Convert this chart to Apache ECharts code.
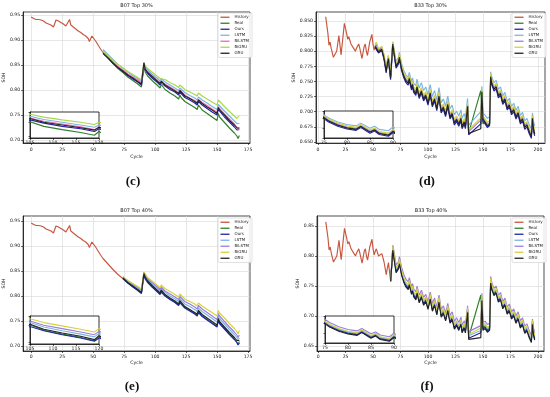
<!DOCTYPE html>
<html><head><meta charset="utf-8">
<script src="https://cdn.jsdelivr.net/npm/echarts@6/dist/echarts.min.js"></script>
<style>html,body{margin:0;padding:0;background:#fff}#c{width:550px;height:397px}</style>
</head><body><div id="c"></div>
<script>
// ---------------- DATA ----------------
const seriesNames = ['History','Real','Ours','LSTM','BiLSTM','BiGRU','GRU'];
const predNames = ['Ours','LSTM','BiLSTM','BiGRU','GRU'];

// B07 measured SOH (history + real)
const b07Cycles = [0,2,4,6,8,10,12,14,16,18,19,20,22,24,26,28,29,31,32,34,36,38,40,42,44,46,47,48,49,50,52,54,56,58,62,66,70,74,78,82,86,89,90,91,92,94,98,102,104,105,108,112,116,119,120,121,124,128,132,134,135,138,142,146,150,151,152,156,160,164,166,167,168];
const b07Soh = [.946,.943,.941,.941,.940,.938,.934,.932,.930,.926,.926,.940,.938,.935,.932,.928,.927,.941,.930,.926,.922,.918,.915,.911,.908,.903,.897,.896,.908,.905,.898,.890,.882,.875,.864,.853,.843,.835,.826,.819,.812,.806,.803,.848,.836,.828,.818,.809,.804,.811,.801,.794,.788,.782,.790,.785,.777,.771,.765,.761,.770,.760,.753,.746,.739,.753,.746,.735,.724,.714,.708,.703,.709];

// B07 Top 30% predictions (cycles 58..168)
const c30Ours   = [.875,.865,.854,.845,.837,.829,.822,.816,.810,.807,.850,.840,.833,.823,.815,.810,.815,.808,.801,.796,.790,.796,.793,.785,.780,.774,.770,.777,.770,.763,.756,.750,.761,.757,.746,.736,.726,.720,.716,.721];
const c30LSTM   = [.881,.871,.861,.851,.844,.836,.829,.823,.817,.815,.854,.846,.840,.831,.823,.818,.823,.816,.810,.804,.799,.804,.802,.795,.789,.784,.780,.786,.780,.774,.767,.761,.771,.768,.758,.748,.738,.733,.729,.733];
const c30BiLSTM = [.877,.866,.856,.847,.840,.832,.826,.820,.814,.811,.851,.843,.837,.828,.819,.815,.819,.812,.806,.800,.794,.800,.797,.790,.784,.779,.775,.781,.775,.769,.762,.756,.766,.763,.752,.742,.732,.726,.721,.725];
const c30BiGRU  = [.878,.869,.859,.851,.844,.837,.831,.825,.820,.817,.854,.848,.843,.835,.827,.823,.827,.821,.815,.810,.805,.810,.808,.801,.796,.791,.788,.794,.788,.782,.776,.770,.780,.777,.767,.757,.748,.743,.740,.749];
const c30GRU    = [.873,.864,.854,.845,.838,.830,.824,.817,.812,.809,.855,.842,.835,.826,.817,.813,.818,.810,.804,.798,.793,.799,.796,.788,.783,.777,.773,.780,.773,.766,.760,.753,.765,.760,.750,.739,.730,.724,.720,.724];

// B07 Top 40% predictions (cycles 74..168)
const e40Ours   = [.835,.826,.818,.811,.805,.802,.842,.834,.827,.817,.808,.803,.808,.800,.793,.787,.781,.787,.784,.776,.770,.764,.760,.767,.759,.752,.745,.738,.750,.745,.734,.723,.713,.707,.702,.706];
const e40LSTM   = [.837,.829,.822,.816,.810,.807,.846,.840,.833,.823,.815,.810,.815,.807,.800,.794,.789,.795,.792,.784,.779,.773,.769,.776,.769,.762,.755,.748,.760,.755,.744,.733,.723,.717,.712,.716];
const e40BiLSTM = [.838,.830,.824,.818,.813,.810,.847,.842,.835,.826,.818,.813,.818,.810,.804,.798,.793,.799,.796,.789,.784,.778,.774,.781,.774,.767,.760,.753,.765,.760,.749,.738,.728,.722,.717,.722];
const e40BiGRU  = [.839,.831,.825,.819,.814,.811,.848,.844,.837,.829,.821,.817,.822,.815,.809,.803,.798,.804,.801,.794,.789,.784,.780,.786,.780,.773,.767,.760,.771,.766,.756,.745,.735,.729,.724,.731];
const e40GRU    = [.836,.827,.820,.813,.807,.804,.845,.838,.830,.820,.811,.806,.812,.803,.796,.790,.784,.791,.787,.779,.773,.767,.764,.771,.763,.756,.749,.742,.755,.749,.738,.727,.717,.711,.707,.711];

// B33 measured SOH (history + real)
const b33Cycles = [7,9,10,11,12,14,15,17,19,21,22,24,26,27,28,30,32,34,35,37,38,40,42,43,44,45,47,49,50,51,
  52,53,55,56,58,60,62,63,64,66,68,69,71,73,74,76,78,80,82,83,85,86,87,89,90,92,94,96,98,100,102,104,106,108,110,112,114,116,118,120,122,124,126,128,130,131,133,134,136,137,148,149,150,152,154,156,157,158,160,162,164,166,168,170,172,174,176,178,180,182,184,186,188,190,192,194,195,196,197];
const b33Soh = [.857,.830,.810,.815,.805,.790,.787,.800,.826,.794,.793,.846,.830,.820,.824,.812,.806,.800,.805,.812,.805,.788,.808,.812,.800,.793,.815,.828,.812,.802,
  .808,.812,.800,.797,.804,.790,.769,.780,.789,.758,.814,.800,.776,.782,.791,.772,.760,.752,.748,.756,.740,.746,.736,.731,.742,.726,.735,.722,.728,.715,.732,.712,.722,.706,.727,.702,.708,.696,.713,.692,.698,.682,.688,.680,.690,.676,.684,.676,.710,.665,.735,.700,.680,.683,.677,.680,.760,.748,.738,.742,.727,.731,.716,.722,.707,.712,.699,.704,.692,.699,.684,.689,.675,.679,.668,.660,.690,.672,.664];

// B33 Top 30% predictions (cycles 52..197)
const d30Ours   = [.806,.809,.797,.794,.801,.787,.764,.776,.786,.753,.809,.797,.772,.778,.787,.768,.756,.748,.744,.752,.736,.742,.732,.727,.738,.722,.731,.718,.724,.711,.727,.708,.718,.702,.722,.698,.704,.692,.708,.688,.694,.678,.684,.676,.685,.672,.680,.672,.704,.662,.680,.726,.684,.680,.674,.677,.752,.745,.734,.738,.723,.727,.712,.718,.703,.708,.695,.700,.688,.695,.680,.685,.671,.675,.664,.656,.684,.668,.660];
const d30LSTM   = [.809,.814,.803,.800,.807,.793,.773,.783,.793,.763,.815,.805,.783,.789,.798,.780,.768,.761,.757,.765,.750,.756,.747,.743,.754,.739,.748,.735,.741,.728,.745,.725,.735,.719,.740,.715,.721,.709,.726,.705,.711,.695,.701,.693,.703,.689,.697,.689,.722,.678,.700,.742,.698,.694,.689,.692,.766,.758,.748,.752,.737,.741,.726,.732,.717,.722,.709,.714,.702,.709,.694,.699,.685,.689,.679,.672,.698,.684,.676];
const d30BiLSTM = [.810,.813,.802,.799,.806,.792,.771,.782,.791,.760,.813,.802,.778,.784,.793,.774,.762,.754,.750,.758,.742,.748,.738,.733,.744,.728,.737,.724,.730,.717,.734,.714,.724,.708,.729,.704,.710,.698,.715,.694,.700,.684,.690,.682,.692,.678,.686,.678,.712,.667,.686,.732,.690,.685,.679,.682,.760,.750,.740,.744,.729,.733,.718,.724,.709,.714,.701,.706,.694,.701,.686,.691,.677,.681,.670,.662,.690,.674,.666];
const d30BiGRU  = [.810,.815,.804,.801,.808,.795,.774,.784,.793,.763,.816,.804,.781,.787,.796,.777,.765,.757,.753,.761,.745,.751,.741,.736,.747,.731,.740,.727,.733,.720,.737,.717,.727,.711,.732,.707,.713,.701,.718,.697,.703,.687,.693,.685,.695,.681,.689,.681,.715,.670,.690,.736,.693,.688,.682,.685,.763,.753,.743,.747,.732,.736,.721,.727,.712,.717,.704,.709,.697,.704,.689,.694,.680,.684,.673,.665,.693,.677,.669];
const d30GRU    = [.808,.811,.799,.796,.803,.789,.767,.779,.788,.756,.812,.799,.775,.781,.790,.771,.759,.751,.747,.755,.739,.745,.735,.730,.741,.725,.734,.721,.727,.714,.731,.711,.721,.705,.726,.701,.707,.695,.712,.691,.697,.681,.687,.679,.689,.675,.683,.675,.709,.664,.672,.733,.688,.682,.676,.679,.758,.747,.737,.741,.726,.730,.715,.721,.706,.711,.698,.703,.691,.698,.683,.688,.674,.678,.667,.659,.689,.671,.663];

// B33 Top 40% predictions (cycles 66..197)
const f40Ours   = [.758,.812,.798,.774,.780,.789,.770,.758,.750,.746,.754,.738,.744,.734,.729,.740,.724,.733,.720,.726,.713,.730,.710,.720,.704,.725,.700,.706,.694,.711,.690,.696,.680,.686,.678,.688,.674,.682,.674,.708,.663,.672,.728,.678,.681,.675,.678,.757,.746,.736,.740,.725,.729,.714,.720,.705,.710,.697,.702,.690,.697,.682,.687,.673,.677,.666,.658,.688,.670,.662];
const f40LSTM   = [.758,.815,.802,.778,.784,.793,.774,.762,.754,.750,.758,.742,.748,.738,.733,.744,.728,.737,.724,.730,.717,.734,.714,.724,.708,.729,.704,.710,.698,.715,.694,.700,.684,.690,.682,.692,.678,.686,.678,.712,.667,.676,.732,.684,.685,.679,.682,.761,.750,.740,.744,.729,.733,.718,.724,.709,.714,.701,.706,.694,.701,.686,.691,.677,.681,.670,.662,.692,.674,.666];
const f40BiLSTM = [.758,.818,.808,.785,.790,.799,.781,.769,.761,.757,.764,.749,.754,.745,.740,.750,.735,.743,.731,.736,.724,.740,.721,.730,.715,.735,.711,.717,.705,.721,.701,.707,.691,.697,.689,.698,.685,.692,.685,.717,.674,.684,.738,.690,.691,.686,.688,.766,.756,.746,.750,.735,.739,.724,.730,.715,.720,.707,.712,.700,.707,.692,.697,.683,.687,.676,.668,.695,.680,.672];
const f40BiGRU  = [.758,.816,.804,.780,.786,.795,.776,.764,.756,.752,.760,.744,.750,.740,.735,.746,.730,.739,.726,.732,.719,.736,.716,.726,.710,.731,.706,.712,.700,.717,.696,.702,.686,.692,.684,.694,.680,.688,.680,.714,.669,.680,.734,.686,.687,.681,.684,.763,.752,.742,.746,.731,.735,.720,.726,.711,.716,.703,.708,.696,.703,.688,.693,.679,.683,.672,.664,.693,.676,.668];
const f40GRU    = [.758,.810,.796,.772,.778,.787,.768,.756,.748,.744,.752,.736,.742,.732,.727,.738,.722,.731,.718,.724,.711,.728,.708,.718,.702,.723,.698,.704,.692,.709,.688,.694,.678,.684,.676,.686,.672,.680,.672,.706,.661,.664,.726,.676,.679,.673,.676,.755,.744,.734,.738,.723,.727,.712,.718,.703,.708,.695,.700,.688,.695,.680,.685,.671,.675,.664,.656,.686,.668,.660];

// tick labels
const b07XTicks = [0,25,50,75,100,125,150,175];
const b33XTicks = [0,25,50,75,100,125,150,175,200];
const b07YTicks = [0.70,0.75,0.80,0.85,0.90,0.95];
const b33YTicks30 = [0.650,0.675,0.700,0.725,0.750,0.775,0.800,0.825,0.850];
const b33YTicks40 = [0.65,0.70,0.75,0.80,0.85];
const titles = ['B07 Top 30%','B33 Top 30%','B07 Top 40%','B33 Top 40%'];
const tags = ['(c)','(d)','(e)','(f)'];

// ---------------- STYLE / LAYOUT ----------------
const palC = {History:'#c8553d',Real:'#2f7f2a',Ours:'#2323a8',LSTM:'#7ab6e0',BiLSTM:'#f06ab0',BiGRU:'#a8d84a',GRU:'#222222'};
const palO = {History:'#c8553d',Real:'#2f7f2a',Ours:'#2323a8',LSTM:'#7ab6e0',BiLSTM:'#9b7ce0',BiGRU:'#d8d040',GRU:'#222222'};

const panels = [
  {cycles:b07Cycles, soh:b07Soh, cut:58, preds:{Ours:c30Ours,LSTM:c30LSTM,BiLSTM:c30BiLSTM,BiGRU:c30BiGRU,GRU:c30GRU},
   grid:{left:23,top:12,width:227,height:131}, xr:[-6.5,176.6], xt:b07XTicks, yr:[0.694,0.956], yt:b07YTicks, yDec:2,
   yGap:14, xGap:11, xMargin:4.5, inset:{left:30,top:112,width:69,height:26,xr:[105,120],yr:[0.776,0.832]},
   legend:{left:218,top:13}, titleXY:[136.5,6], tagXY:[133,182], pal:palC},
  {cycles:b33Cycles, soh:b33Soh, cut:52, preds:{Ours:d30Ours,LSTM:d30LSTM,BiLSTM:d30BiLSTM,BiGRU:d30BiGRU,GRU:d30GRU},
   grid:{left:316,top:12,width:229,height:131}, xr:[-1.8,206.4], xt:b33XTicks, yr:[0.6483,0.8649], yt:b33YTicks30, yDec:3,
   yGap:18, xGap:11, xMargin:4.5, inset:{left:324,top:111,width:69,height:27,xr:[75,90],yr:[0.722,0.800]},
   legend:{left:512,top:13}, titleXY:[430.5,6], tagXY:[427,182], pal:palO},
  {cycles:b07Cycles, soh:b07Soh, cut:74, preds:{Ours:e40Ours,LSTM:e40LSTM,BiLSTM:e40BiLSTM,BiGRU:e40BiGRU,GRU:e40GRU},
   grid:{left:23,top:216,width:227,height:135}, xr:[-6.5,176.6], xt:b07XTicks, yr:[0.69,0.96], yt:b07YTicks, yDec:2,
   yGap:14, xGap:9, xMargin:3.5, inset:{left:30,top:316,width:69,height:28,xr:[105,120],yr:[0.776,0.827]},
   legend:{left:218,top:218}, titleXY:[136.5,211], tagXY:[132,387], pal:palO},
  {cycles:b33Cycles, soh:b33Soh, cut:66, preds:{Ours:f40Ours,LSTM:f40LSTM,BiLSTM:f40BiLSTM,BiGRU:f40BiGRU,GRU:f40GRU},
   grid:{left:317,top:216,width:227,height:135}, xr:[-1,205.5], xt:b33XTicks, yr:[0.6417,0.8667], yt:b33YTicks40, yDec:2,
   yGap:13, xGap:9, xMargin:3.5, inset:{left:325,top:316,width:69,height:27,xr:[75,90],yr:[0.722,0.800]},
   legend:{left:512,top:218}, titleXY:[431,211], tagXY:[427,387], pal:palO}
];

const FONT = 'DejaVu Sans';
function upTo(xs, ys, cut){ const r=[]; xs.forEach((x,i)=>{ if (x<=cut) r.push([x,ys[i]]); }); return r; }
function fromCut(xs, ys, cut){ const r=[]; xs.forEach((x,i)=>{ if (x>=cut) r.push([x,ys[i]]); }); return r; }

const option = {animation:false, backgroundColor:'#fff', textStyle:{fontFamily:FONT},
  grid:[], xAxis:[], yAxis:[], series:[], legend:[], graphic:[]};

panels.forEach((p, k) => {
  const predX = p.cycles.filter(x => x >= p.cut);
  const seriesData = {History: upTo(p.cycles, p.soh, p.cut), Real: fromCut(p.cycles, p.soh, p.cut)};
  predNames.forEach(n => { seriesData[n] = predX.map((x,i)=>[x, p.preds[n][i]]); });

  // main grid
  const gi = option.grid.length;
  option.grid.push({left:p.grid.left, top:p.grid.top, width:p.grid.width, height:p.grid.height,
    show:true, borderColor:'#000', borderWidth:0.7, backgroundColor:'rgba(0,0,0,0)'});
  option.xAxis.push({type:'value', gridIndex:gi, min:p.xr[0], max:p.xr[1],
    name:'Cycle', nameLocation:'middle', nameGap:p.xGap, nameTextStyle:{fontSize:4.6, color:'#222', fontFamily:FONT},
    axisLine:{onZero:false, lineStyle:{color:'#000', width:0.7}},
    axisTick:{customValues:p.xt, length:2, lineStyle:{color:'#000', width:0.6}},
    axisLabel:{customValues:p.xt, fontSize:4.6, color:'#222', margin:p.xMargin, fontFamily:FONT},
    splitLine:{show:true, lineStyle:{color:'#d6d6d6', width:0.6}}});
  option.yAxis.push({type:'value', gridIndex:gi, min:p.yr[0], max:p.yr[1],
    name:'SOH', nameLocation:'middle', nameGap:p.yGap, nameTextStyle:{fontSize:4.6, color:'#222', fontFamily:FONT},
    axisLine:{onZero:false, lineStyle:{color:'#000', width:0.7}},
    axisTick:{customValues:p.yt, length:2, lineStyle:{color:'#000', width:0.6}},
    axisLabel:{customValues:p.yt, fontSize:4.6, color:'#222', margin:3, fontFamily:FONT,
      formatter: v => Number(v).toFixed(p.yDec)},
    splitLine:{show:true, lineStyle:{color:'#d6d6d6', width:0.6}}});
  seriesNames.forEach(n => {
    option.series.push({type:'line', name:n, xAxisIndex:gi, yAxisIndex:gi, data:seriesData[n],
      symbol:'none', color:p.pal[n], lineStyle:{color:p.pal[n], width:1.15}, z:2, silent:true});
  });

  // inset grid
  const ii = option.grid.length;
  const ins = p.inset;
  option.grid.push({left:ins.left, top:ins.top, width:ins.width, height:ins.height, show:true,
    borderColor:'#000', borderWidth:0.8, backgroundColor:'#fff', z:4});
  option.xAxis.push({type:'value', gridIndex:ii, min:ins.xr[0], max:ins.xr[1], interval:5, z:5,
    axisLine:{onZero:false, lineStyle:{color:'#000', width:0.7}},
    axisTick:{length:2, lineStyle:{color:'#000', width:0.6}},
    axisLabel:{fontSize:4.6, color:'#222', margin:2, fontFamily:FONT},
    splitLine:{show:false}});
  option.yAxis.push({type:'value', gridIndex:ii, min:ins.yr[0], max:ins.yr[1], z:5, splitNumber:2,
    axisLine:{onZero:false, lineStyle:{color:'#000', width:0.7}},
    axisTick:{show:true, length:1.5, lineStyle:{color:'#000', width:0.6}},
    axisLabel:{show:false}, splitLine:{show:false}});
  seriesNames.slice(1).forEach(n => {
    option.series.push({type:'line', name:n, xAxisIndex:ii, yAxisIndex:ii, data:seriesData[n],
      symbol:'none', color:p.pal[n], lineStyle:{color:p.pal[n], width:1.1}, z:6, clip:true, silent:true});
  });

  // legend
  option.legend.push({orient:'vertical', left:p.legend.left, top:p.legend.top, icon:'rect',
    itemWidth:9, itemHeight:1.3, itemGap:1.5, padding:[2,3,2,2.5], selectedMode:false,
    borderColor:'#cccccc', borderWidth:0.6, borderRadius:1.5, backgroundColor:'rgba(255,255,255,0.85)',
    textStyle:{fontSize:4, lineHeight:4.5, color:'#222', fontFamily:FONT}, z:8,
    data: seriesNames.map(n => ({name:n, itemStyle:{color:p.pal[n]}}))});

  // title and tag
  option.graphic.push({type:'text', x:p.titleXY[0], y:p.titleXY[1], z:10,
    style:{text:titles[k], fontSize:5, fill:'#222', align:'center', verticalAlign:'middle', fontFamily:FONT}});
  option.graphic.push({type:'text', x:p.tagXY[0], y:p.tagXY[1], z:10,
    style:{text:tags[k], fontSize:13, fontWeight:'bold', fill:'#111', align:'center', verticalAlign:'middle', fontFamily:'Liberation Serif'}});
});

const chart = echarts.init(document.getElementById('c'), null, {renderer:'canvas'});
chart.setOption(option);
</script></body></html>
